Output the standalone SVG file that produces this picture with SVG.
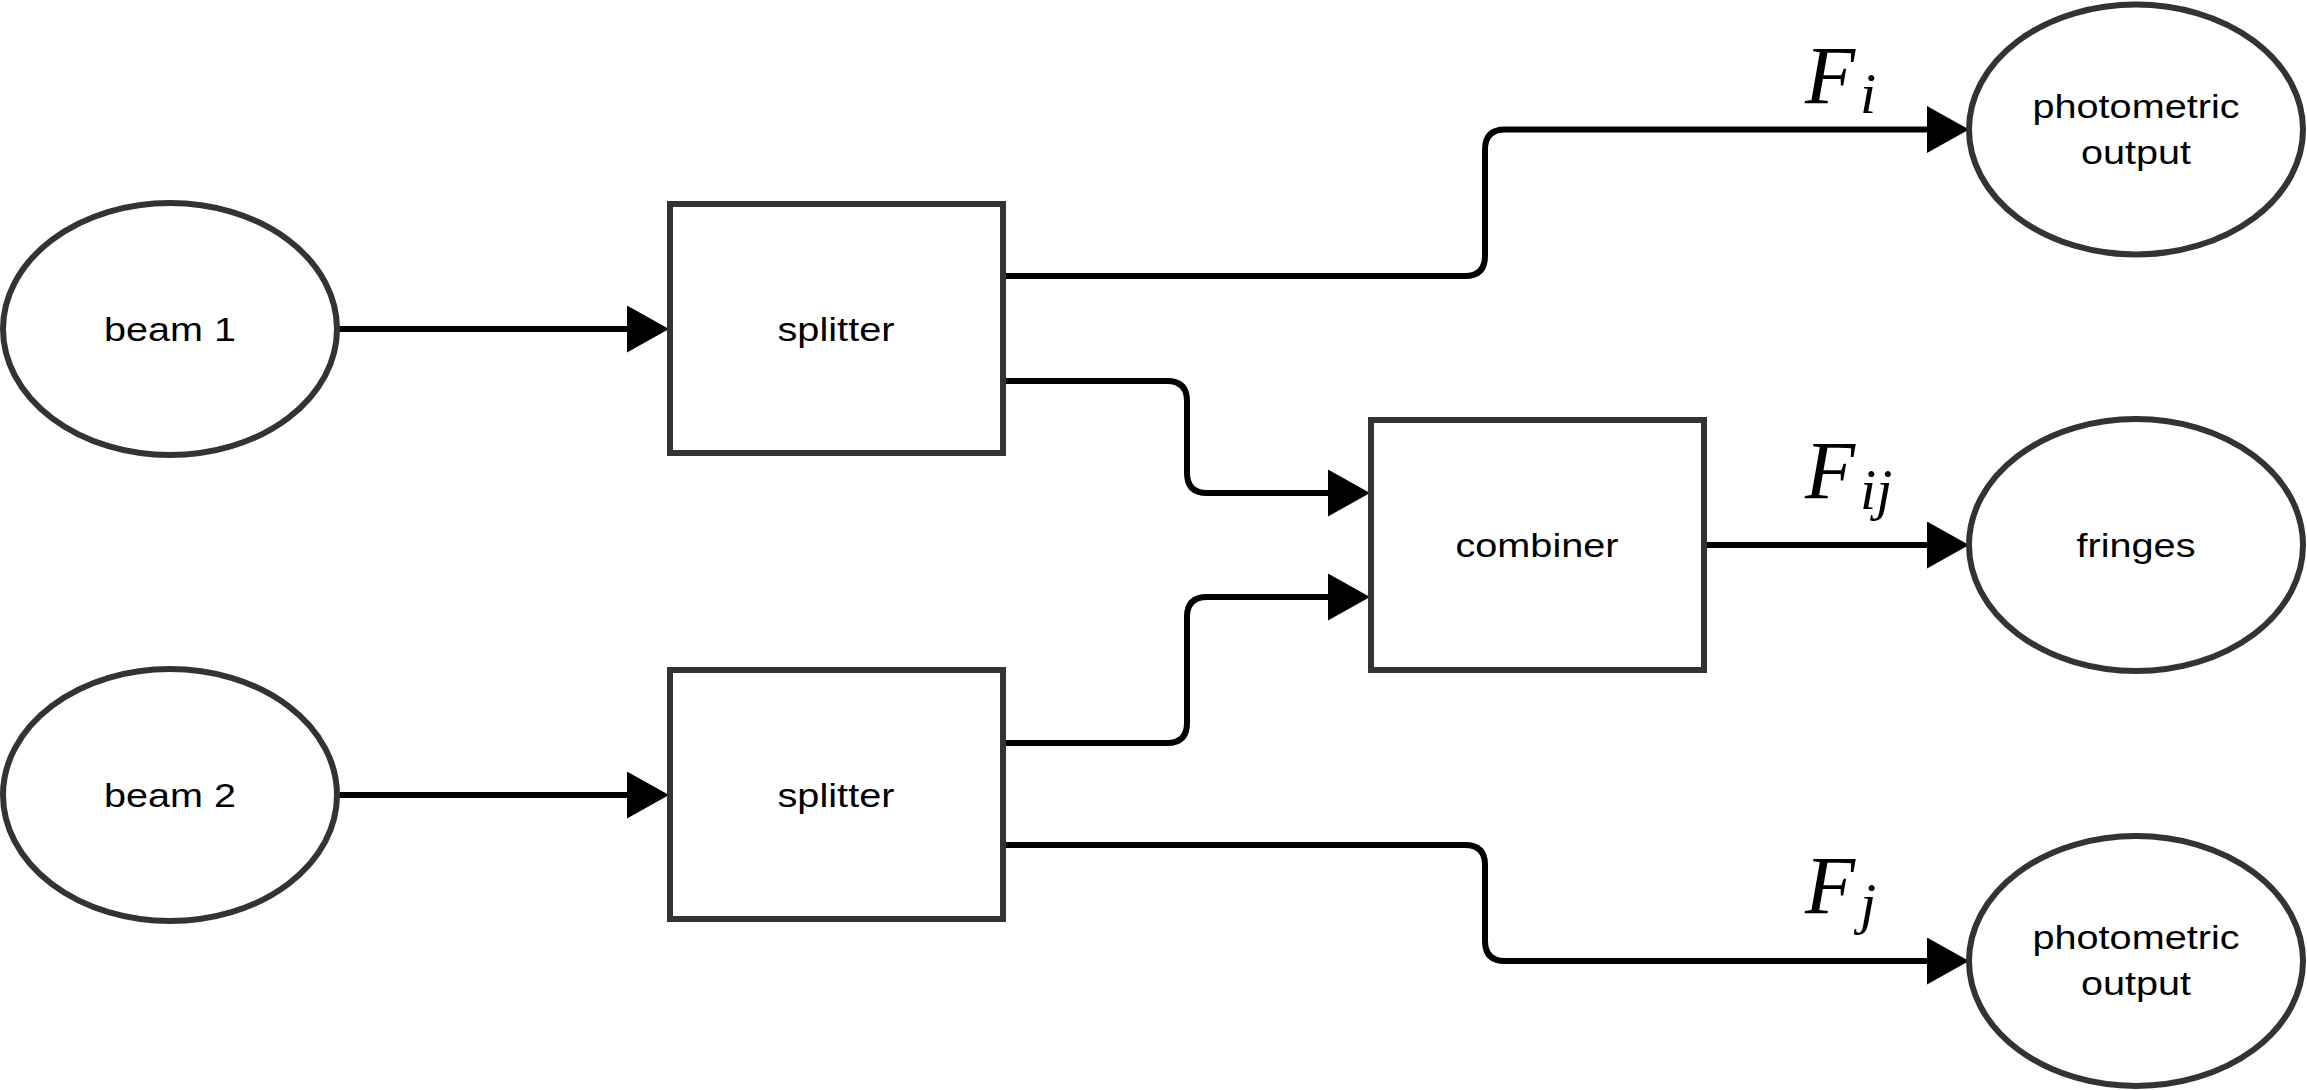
<svg xmlns="http://www.w3.org/2000/svg" width="2307" height="1090" viewBox="0 0 2307 1090">
<style>
.node{fill:#ffffff;stroke:#333333;stroke-width:6}
.lbl{font-family:"Liberation Sans",Arial,Helvetica,sans-serif;font-size:34px;fill:#000000;text-anchor:middle}
.edge{fill:none;stroke:#000000;stroke-width:6}
.math{font-family:"Liberation Serif","Times New Roman",serif;font-style:italic;font-size:82px;fill:#000000}
.sub{font-size:58px}
</style>
<defs>
<marker id="arr" markerUnits="userSpaceOnUse" markerWidth="42" markerHeight="47" refX="0" refY="23.5" orient="auto" viewBox="0 0 42 47">
<path d="M0,0 L42,23.5 L0,47 Z" fill="#000000"/>
</marker>
</defs>
<rect width="2307" height="1090" fill="#ffffff"/>
<g id="connectors">
<path class="edge" marker-end="url(#arr)" d="M337,329 H627"/>
<path class="edge" marker-end="url(#arr)" d="M337,795 H627"/>
<path class="edge" marker-end="url(#arr)" d="M1003,276 H1465 Q1485,276 1485,256 V149.5 Q1485,129.5 1505,129.5 H1927"/>
<path class="edge" marker-end="url(#arr)" d="M1003,381 H1167 Q1187,381 1187,401 V473 Q1187,493 1207,493 H1328"/>
<path class="edge" marker-end="url(#arr)" d="M1003,743 H1167 Q1187,743 1187,723 V617 Q1187,597 1207,597 H1328"/>
<path class="edge" marker-end="url(#arr)" d="M1704,545 H1927"/>
<path class="edge" marker-end="url(#arr)" d="M1003,845 H1465 Q1485,845 1485,865 V941 Q1485,961 1505,961 H1927"/>
<text class="math" x="1805" y="103">F<tspan class="sub" dx="5" dy="10">i</tspan></text>
<text class="math" x="1805" y="498">F<tspan class="sub" dx="5" dy="11">ij</tspan></text>
<text class="math" x="1805" y="913">F<tspan class="sub" dx="5" dy="10">j</tspan></text>
</g>
<g id="beam1">
<ellipse class="node" cx="170" cy="329" rx="167" ry="126"/>
<text class="lbl" x="170" y="341" textLength="132" lengthAdjust="spacingAndGlyphs">beam 1</text>
</g>
<g id="beam2">
<ellipse class="node" cx="170" cy="795" rx="167" ry="126"/>
<text class="lbl" x="170" y="807" textLength="132" lengthAdjust="spacingAndGlyphs">beam 2</text>
</g>
<g id="splitter1">
<rect class="node" x="670" y="204" width="333" height="249"/>
<text class="lbl" x="836" y="341" textLength="117" lengthAdjust="spacingAndGlyphs">splitter</text>
</g>
<g id="splitter2">
<rect class="node" x="670" y="670" width="333" height="249"/>
<text class="lbl" x="836" y="807" textLength="117" lengthAdjust="spacingAndGlyphs">splitter</text>
</g>
<g id="combiner">
<rect class="node" x="1371" y="420" width="333" height="250"/>
<text class="lbl" x="1537" y="557" textLength="163" lengthAdjust="spacingAndGlyphs">combiner</text>
</g>
<g id="photometric1">
<ellipse class="node" cx="2136" cy="129.5" rx="167" ry="125"/>
<text class="lbl" x="2136" y="118" textLength="207" lengthAdjust="spacingAndGlyphs">photometric</text>
<text class="lbl" x="2136" y="164" textLength="110" lengthAdjust="spacingAndGlyphs">output</text>
</g>
<g id="fringes">
<ellipse class="node" cx="2136" cy="545" rx="167" ry="126"/>
<text class="lbl" x="2136" y="557" textLength="119" lengthAdjust="spacingAndGlyphs">fringes</text>
</g>
<g id="photometric2">
<ellipse class="node" cx="2136" cy="961" rx="167" ry="125"/>
<text class="lbl" x="2136" y="949" textLength="207" lengthAdjust="spacingAndGlyphs">photometric</text>
<text class="lbl" x="2136" y="995" textLength="110" lengthAdjust="spacingAndGlyphs">output</text>
</g>
</svg>
